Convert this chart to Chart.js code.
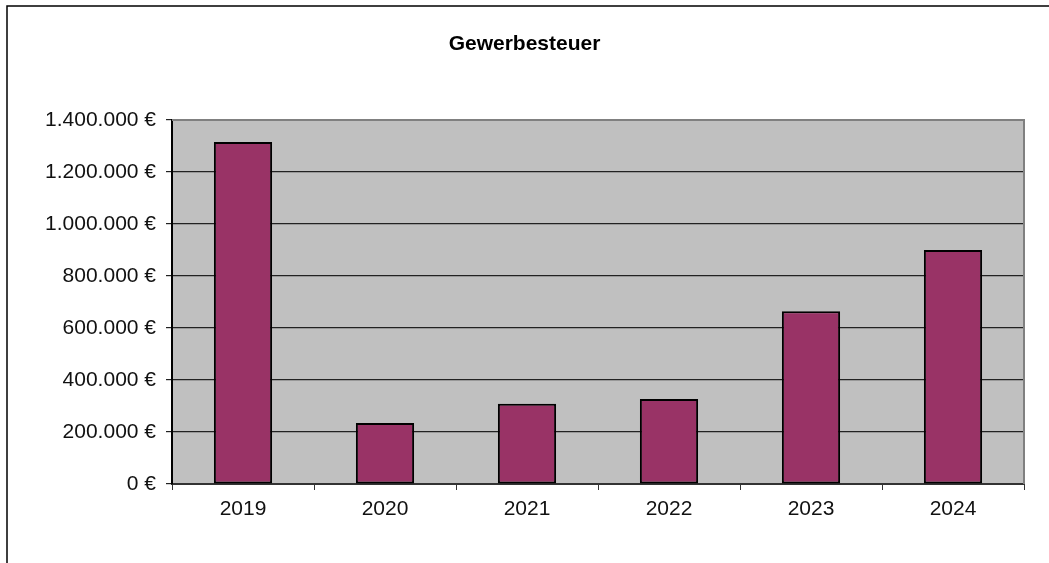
<!DOCTYPE html>
<html>
<head>
<meta charset="utf-8">
<script src="https://cdn.jsdelivr.net/npm/chart.js@4"></script>
<style>
html,body{margin:0;padding:0;background:#fff;}
#wrap{width:1049px;height:563px;position:relative;}
</style>
</head>
<body>
<div id="wrap"><canvas id="c" width="1049" height="563"></canvas></div>
<script>
const categories = ["2019", "2020", "2021", "2022", "2023", "2024"];
const gewerbesteuer = [1315000, 235000, 309000, 327000, 664000, 900000];
const yTicks = [0, 200000, 400000, 600000, 800000, 1000000, 1200000, 1400000];
const chartTitle = "Gewerbesteuer";

const FONT = '"Liberation Sans", Arial, sans-serif';

const frame = {
  id: 'frame',
  beforeDraw(chart) {
    const ctx = chart.ctx, a = chart.chartArea;
    ctx.save();
    ctx.fillStyle = '#ffffff';
    ctx.fillRect(0, 0, chart.width, chart.height);
    ctx.strokeStyle = '#000000';
    ctx.lineWidth = 1.5;
    ctx.strokeRect(7, 6, chart.width + 20, chart.height + 20);
    ctx.fillStyle = '#C0C0C0';
    ctx.fillRect(a.left, a.top, a.right - a.left, a.bottom - a.top);
    ctx.restore();
  },
  afterDatasetsDraw(chart) {
    const ctx = chart.ctx, a = chart.chartArea;
    ctx.save();
    ctx.strokeStyle = '#808080';
    ctx.lineWidth = 2;
    ctx.beginPath();
    ctx.moveTo(a.left, a.top);
    ctx.lineTo(a.right, a.top);
    ctx.lineTo(a.right, a.bottom);
    ctx.stroke();
    ctx.restore();
  }
};

new Chart(document.getElementById('c'), {
  type: 'bar',
  data: {
    labels: categories,
    datasets: [{
      data: gewerbesteuer,
      backgroundColor: '#993366',
      borderColor: '#000000',
      borderWidth: 2,
      borderSkipped: false,
      categoryPercentage: 1.0,
      barPercentage: 0.41
    }]
  },
  options: {
    responsive: false,
    animation: false,
    devicePixelRatio: 1,
    layout: { padding: { left: 25, right: 25, top: 0, bottom: 0 } },
    plugins: {
      legend: { display: false },
      tooltip: { enabled: false },
      title: {
        display: true,
        text: chartTitle,
        color: '#000',
        font: { family: FONT, size: 21, weight: 'bold', lineHeight: 1.2 },
        padding: { top: 32, bottom: 62.8 }
      }
    },
    scales: {
      x: {
        grid: {
          offset: true,
          drawOnChartArea: false,
          drawTicks: true,
          tickLength: 6,
          color: '#333333',
          lineWidth: 1
        },
        border: { color: '#333333', width: 2 },
        ticks: {
          color: '#111',
          font: { family: FONT, size: 21 },
          padding: 7,
          maxRotation: 0
        },
        afterFit(scale) { scale.height = 79; }
      },
      y: {
        min: 0,
        max: 1400000,
        afterBuildTicks(scale) { scale.ticks = yTicks.map(v => ({ value: v })); },
        grid: {
          color: '#222222',
          lineWidth: 1.2,
          drawTicks: true,
          tickLength: 6
        },
        border: { color: '#000000', width: 2 },
        ticks: {
          color: '#111',
          font: { family: FONT, size: 21 },
          padding: 10,
          callback: (v) => v.toLocaleString('de-DE') + ' €'
        },
        afterFit(scale) { scale.width = 147; }
      }
    }
  },
  plugins: [frame]
});
</script>
</body>
</html>
